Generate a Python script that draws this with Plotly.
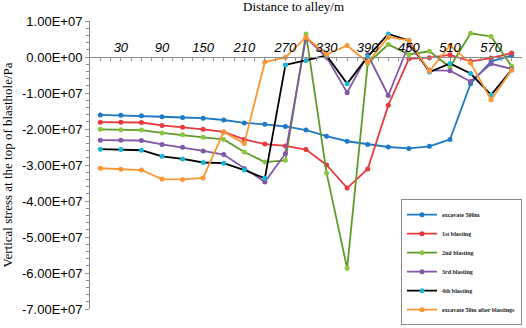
import plotly.graph_objects as go

# ---- data (values in Pa) ----
distance = [0, 30, 60, 90, 120, 150, 180, 210, 240, 270, 300,
            330, 360, 390, 420, 450, 480, 510, 540, 570, 600]

excavate_500m = [-1.61, -1.62, -1.63, -1.66, -1.68, -1.70, -1.75, -1.83, -1.87, -1.93, -2.03,
                 -2.20, -2.34, -2.43, -2.50, -2.54, -2.48, -2.29, -0.74, -0.12, 0.04]
blasting_1st = [-1.81, -1.81, -1.82, -1.90, -1.95, -2.01, -2.08, -2.29, -2.42, -2.47, -2.57,
                -3.00, -3.64, -3.11, -1.34, -0.05, -0.02, 0.06, -0.12, -0.03, 0.11]
blasting_2nd = [-2.01, -2.02, -2.03, -2.11, -2.16, -2.23, -2.29, -2.64, -2.92, -2.87, 0.64,
                -3.22, -5.87, -0.18, 0.35, 0.07, 0.16, -0.28, 0.66, 0.57, -0.26]
blasting_3rd = [-2.31, -2.31, -2.32, -2.43, -2.51, -2.61, -2.71, -3.10, -3.47, -2.68, 0.53,
                0.00, -0.99, 0.07, -1.07, 0.35, -0.37, -0.38, -0.68, -0.19, -0.33]
blasting_4th = [-2.56, -2.57, -2.59, -2.76, -2.83, -2.93, -2.95, -3.14, -3.37, -0.22, -0.10,
                0.04, -0.74, 0.01, 0.64, 0.46, -0.42, -0.18, -0.46, -1.05, -0.36]
after_50m = [-3.09, -3.12, -3.14, -3.39, -3.40, -3.36, -2.08, -2.40, -0.14, -0.01, 0.55,
             0.07, 0.32, -0.15, 0.55, 0.46, -0.39, 0.32, -0.17, -1.19, -0.36]
SCALE = 1e7

series_names = ["excavate 500m", "1st blasting", "2nd blasting", "3rd blasting",
                "4th blasting", "excavate 50m after blastings"]
series_values = [excavate_500m, blasting_1st, blasting_2nd, blasting_3rd, blasting_4th, after_50m]
line_colors = ["#1f7ac6", "#e8393f", "#5e9c2a", "#8257a8", "#000000", "#fb9632"]
marker_colors = ["#1f7ac6", "#e8393f", "#8cc63e", "#8257a8", "#1bb5d5", "#fb9632"]

x_tick_labels = ["30", "90", "150", "210", "270", "330", "390", "450", "510", "570"]
y_tick_values = [1e7, 0, -1e7, -2e7, -3e7, -4e7, -5e7, -6e7, -7e7]
y_tick_labels = ["1.00E+07", "0.00E+00", "-1.00E+07", "-2.00E+07", "-3.00E+07",
                 "-4.00E+07", "-5.00E+07", "-6.00E+07", "-7.00E+07"]

fig = go.Figure()
for name, vals, lc, mc in zip(series_names, series_values, line_colors, marker_colors):
    fig.add_trace(go.Scatter(
        x=distance, y=[v * SCALE for v in vals], name=name, mode="lines+markers",
        line=dict(color=lc, width=1.8),
        marker=dict(color=mc, size=5, symbol="circle"),
    ))

y_min, y_max = -7e7, 1e7
fig.update_layout(
    width=526, height=328,
    margin=dict(l=90, r=4, t=21, b=19, autoexpand=False),
    paper_bgcolor="white", plot_bgcolor="white",
    showlegend=True,
    legend=dict(
        x=1.0, xanchor="right", y=-0.056, yanchor="bottom",
        bordercolor="#8a8a8a", borderwidth=1, bgcolor="white",
        font=dict(family="Liberation Serif", size=6, color="#222222", weight="bold"),
        itemwidth=30, tracegroupgap=0,
    ),
    xaxis=dict(
        range=[-15, 615], anchor="free", position=(0 - y_min) / (y_max - y_min),
        side="top", showline=True, linecolor="#8c8c8c", linewidth=1,
        showgrid=False, zeroline=False, automargin=False,
        tickmode="array", tickvals=[int(t) for t in x_tick_labels], ticktext=x_tick_labels,
        ticks="inside", ticklen=3, tickcolor="#8c8c8c",
        minor=dict(dtick=15, tick0=-15, ticks="inside", ticklen=3, tickcolor="#8c8c8c"),
        tickfont=dict(family="Liberation Sans", size=13, color="#000000", style="italic"),
    ),
    yaxis=dict(
        range=[y_min, y_max], showline=True, linecolor="#8c8c8c", linewidth=1,
        showgrid=False, zeroline=False, automargin=False,
        tickmode="array", tickvals=y_tick_values, ticktext=y_tick_labels,
        ticks="outside", ticklen=4, tickcolor="#8c8c8c",
        minor=dict(dtick=2e6, ticks="outside", ticklen=3, tickcolor="#8c8c8c"),
        tickfont=dict(family="Liberation Sans", size=13, color="#000000"),
        title=dict(text="Vertical stress at the top of blasthole/Pa", standoff=8,
                   font=dict(family="Liberation Serif", size=13, color="#000000")),
    ),
    annotations=[dict(
        text="Distance to alley/m", xref="paper", yref="paper", x=0.47, y=1.05,
        xanchor="center", yanchor="middle", showarrow=False,
        font=dict(family="Liberation Serif", size=13, color="#000000"),
    )],
)

fig.write_html("out.html", config={"displayModeBar": False},
               post_script="document.body.style.margin='0px';")
